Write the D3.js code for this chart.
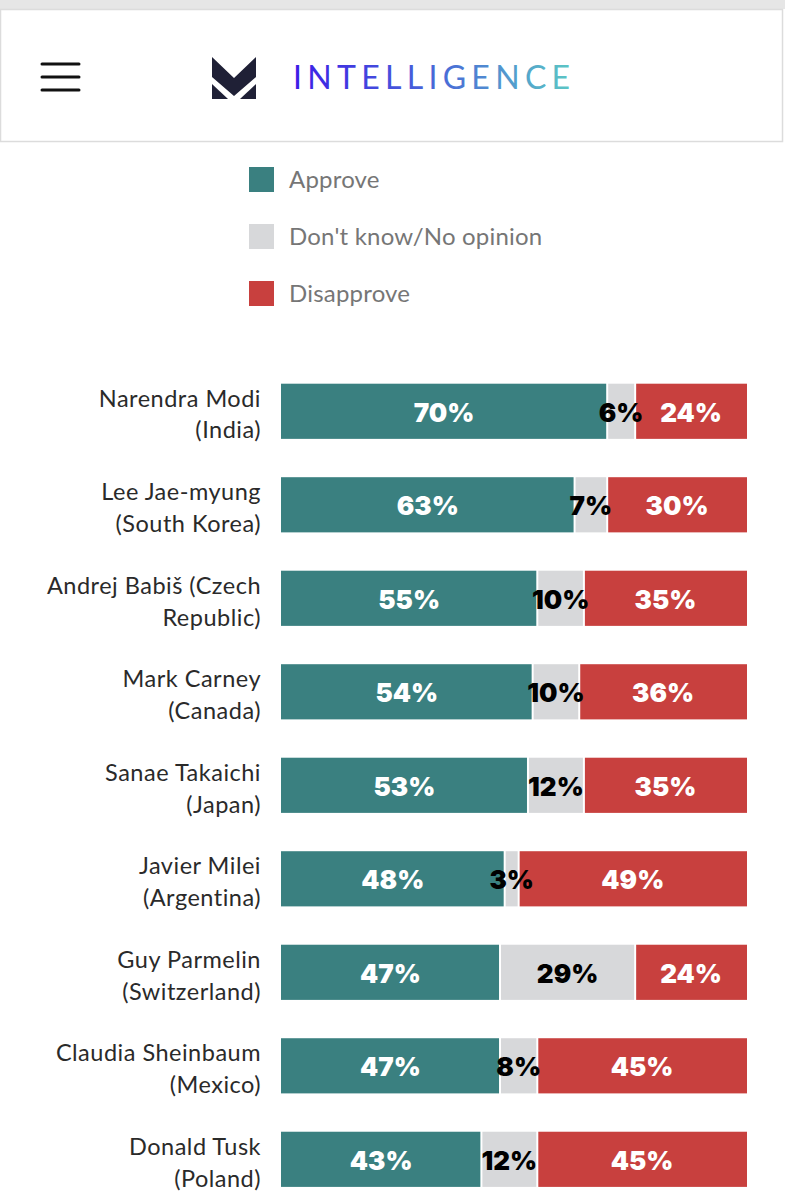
<!DOCTYPE html>
<html>
<head>
<meta charset="utf-8">
<script src="https://cdn.jsdelivr.net/npm/d3@7"></script>
<style>
  html, body { margin: 0; padding: 0; background: #fff; }
  svg { display: block; }
</style>
</head>
<body>
<svg id="chart" width="785" height="1200"></svg>
<script>
// ---- data ----
const leaders = ["Narendra Modi", "Lee Jae-myung", "Andrej Babiš (Czech", "Mark Carney", "Sanae Takaichi", "Javier Milei", "Guy Parmelin", "Claudia Sheinbaum", "Donald Tusk"];
const countries = ["(India)", "(South Korea)", "Republic)", "(Canada)", "(Japan)", "(Argentina)", "(Switzerland)", "(Mexico)", "(Poland)"];
const approve    = [70, 63, 55, 54, 53, 48, 47, 47, 43];
const dontKnow   = [6, 7, 10, 10, 12, 3, 29, 8, 12];
const disapprove = [24, 30, 35, 36, 35, 49, 24, 45, 45];
const seriesNames = ["Approve", "Don't know/No opinion", "Disapprove"];
const seriesColors = ["#3a8080", "#d7d8da", "#c8403e"];
const labelColors = ["#ffffff", "#000000", "#ffffff"];

const svg = d3.select("#chart");

// ---- header ----
svg.append("rect").attr("x", 0).attr("y", 0).attr("width", 785).attr("height", 9).attr("fill", "#e6e6e6");
svg.append("rect").attr("x", 0.5).attr("y", 9.5).attr("width", 782).attr("height", 132)
  .attr("fill", "#fff").attr("stroke", "#dcdcdc").attr("stroke-width", 1.5);
[64, 77, 90].forEach(y => {
  svg.append("line").attr("x1", 42).attr("x2", 79).attr("y1", y).attr("y2", y)
    .attr("stroke", "#111").attr("stroke-width", 3).attr("stroke-linecap", "round");
});
const logo = svg.append("g").attr("fill", "#1f2036");
logo.append("path").attr("d", "M212,57 L234,78 L256,57 L256,77 L234,96 L212,77 Z");
logo.append("path").attr("d", "M212,84 L228,99 L212,99 Z");
logo.append("path").attr("d", "M256,84 L240,99 L256,99 Z");

const defs = svg.append("defs");
const grad = defs.append("linearGradient").attr("id", "lg").attr("x1", "0%").attr("x2", "100%");
grad.append("stop").attr("offset", "0%").attr("stop-color", "#3b1de6");
grad.append("stop").attr("offset", "55%").attr("stop-color", "#4a6fd6");
grad.append("stop").attr("offset", "100%").attr("stop-color", "#5cc9c4");
svg.append("text").attr("x", 293).attr("y", 89).text("INTELLIGENCE")
  .attr("font-family", "Lato, 'Open Sans', sans-serif").attr("font-size", 32).attr("font-weight", 400)
  .attr("letter-spacing", 5.3).attr("fill", "url(#lg)");

// ---- legend ----
const legend = svg.append("g");
seriesNames.forEach((n, i) => {
  const y = 167 + i * 57;
  legend.append("rect").attr("x", 249).attr("y", y).attr("width", 25).attr("height", 25).attr("fill", seriesColors[i]);
  legend.append("text").attr("x", 289).attr("y", y + 13).attr("dy", "0.35em").text(n)
    .attr("font-family", "Lato, 'Open Sans', sans-serif").attr("font-size", 24).attr("letter-spacing", 0.2).attr("fill", "#767676");
});

// ---- chart ----
const rows = leaders.map((l, i) => ({ leader: l, country: countries[i], vals: [approve[i], dontKnow[i], disapprove[i]] }));
const x = d3.scaleLinear().domain([0, 100]).range([281, 747]);
const y = d3.scaleBand().domain(d3.range(rows.length)).range([365, 365 + 93.4 * rows.length]).paddingInner(0.41).paddingOuter(0.2);

const g = svg.append("g");
const row = g.selectAll("g.row").data(rows).join("g").attr("class", "row")
  .attr("transform", (d, i) => `translate(0,${y(i)})`);

row.each(function(d) {
  const sel = d3.select(this);
  let cum = 0;
  d.vals.forEach((v, k) => {
    const x0 = x(cum), x1 = x(cum + v);
    cum += v;
    sel.append("rect")
      .attr("x", x0 + (k > 0 ? 1 : 0)).attr("y", 0)
      .attr("width", Math.max(0, x1 - x0 - (k > 0 ? 1 : 0) - (k < 2 ? 1 : 0)))
      .attr("height", y.bandwidth()).attr("fill", seriesColors[k]);
  });
  cum = 0;
  d.vals.forEach((v, k) => {
    const xm = x(cum + v / 2);
    cum += v;
    sel.append("text").attr("x", xm).attr("y", y.bandwidth() / 2 + 1).attr("dy", "0.36em")
      .attr("text-anchor", "middle").text(v + "%")
      .attr("font-family", "Inter, 'DejaVu Sans', sans-serif").attr("font-weight", 900)
      .attr("font-size", 26).attr("fill", labelColors[k]);
  });
  const t = sel.append("text").attr("text-anchor", "end")
    .attr("font-family", "Lato, 'Open Sans', sans-serif").attr("font-size", 23.5).attr("letter-spacing", 0.5).attr("fill", "#2a2a2a");
  t.append("tspan").attr("x", 261).attr("y", y.bandwidth() / 2 - 13).attr("dy", "0.35em").text(d.leader);
  t.append("tspan").attr("x", 261).attr("y", y.bandwidth() / 2 + 19).attr("dy", "0.35em").text(d.country);
});
</script>
</body>
</html>
